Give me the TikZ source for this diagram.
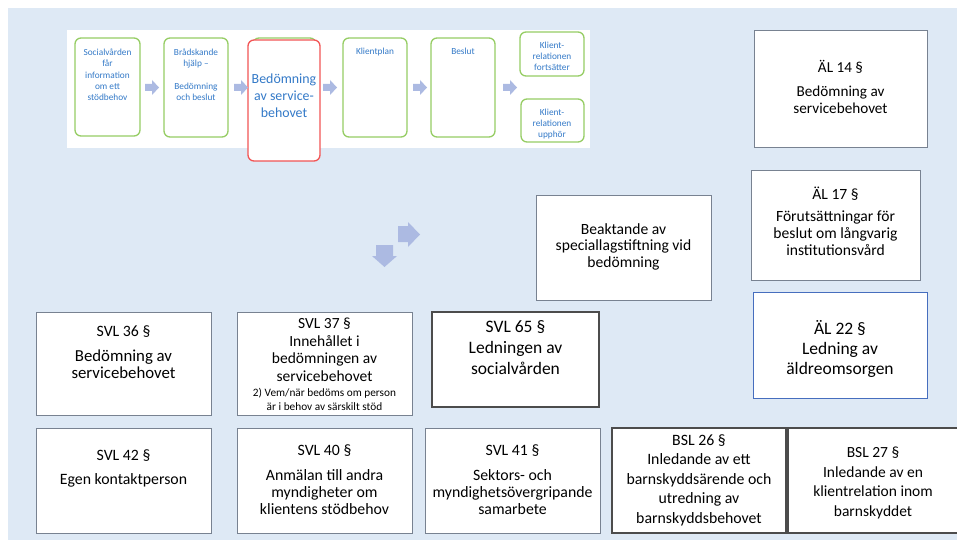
\documentclass[tikz,border=0pt]{standalone}
\usepackage{fontspec}
\setmainfont{Carlito}

\definecolor{panelblue}{RGB}{222,233,245}
\definecolor{flowgreen}{RGB}{150,205,100}
\definecolor{flowred}{RGB}{242,85,85}
\definecolor{flowtext}{RGB}{52,122,200}
\definecolor{arrowblue}{RGB}{172,186,226}
\definecolor{boxgray}{RGB}{120,130,145}
\definecolor{boxblue}{RGB}{70,110,190}

\tikzset{
	lawbox/.style = {draw=boxgray, fill=white, line width=0.9pt},
	darkbox/.style = {draw=black!70, fill=white, line width=1.3pt},
	flowbox/.style = {draw=flowgreen, fill=white, line width=1.3pt, rounded corners=6pt},
	lawtext/.style = {align=center, inner sep=0pt, font=\fontsize{15.8}{17.3}\selectfont},
	bigtext/.style = {align=center, inner sep=0pt, font=\fontsize{17.5}{21}\selectfont},
	flowtext/.style = {align=center, inner sep=0pt, anchor=north, text=flowtext, font=\fontsize{9.3}{11.4}\selectfont},
	blockarrow/.style = {fill=arrowblue, draw=none}
}

\begin{document}
\begin{tikzpicture}[x=1pt, y=-1pt]
	\useasboundingbox (0,0) rectangle (957,540);
	\clip (0,0) rectangle (957,540);
	\fill[white] (0,0) rectangle (957,540);
	\fill[panelblue] (8,8) rectangle (957,540);

	% process strip
	\fill[white] (67,30) rectangle (590,148);

	\draw[flowbox] (75,38) rectangle (140,136);
	\node[flowtext] (f1) at (107.5,48.5) {Socialvården\\får\\information\\om ett\\stödbehov};

	\draw[flowbox] (164,38) rectangle (228,137);
	\node[flowtext] (f2) at (196,48.5) {Brådskande\\hjälp –\\[11.4pt]Bedömning\\och beslut};

	\draw[flowbox] (253,38) rectangle (316,137);
	\draw[flowbox, draw=flowred] (248,40) rectangle (320,161);
	\node[align=center, inner sep=0pt, text=flowtext, font=\fontsize{13.9}{17}\selectfont] (f3) at (284,95.5) {Bedömning\\av service-\\behovet};

	\draw[flowbox] (343,38) rectangle (407,137);
	\node[flowtext] (f4) at (375,47.5) {Klientplan};

	\draw[flowbox] (431,38) rectangle (495,137);
	\node[flowtext] (f5) at (463,47.5) {Beslut};

	\draw[flowbox] (520,32) rectangle (584,76);
	\node[flowtext] (f6) at (552,41.5) {Klient-\\relationen\\fortsätter};

	\draw[flowbox] (521,99) rectangle (584,142);
	\node[flowtext] (f7) at (552,108.5) {Klient-\\relationen\\upphör};

	\foreach \ax in {145,234,323,413,503}
		\fill[blockarrow] (\ax,84) -- (\ax+7,84) -- (\ax+7,80) -- (\ax+14,87.5)
			-- (\ax+7,95) -- (\ax+7,91) -- (\ax,91) -- cycle;

	% big arrows
	\fill[blockarrow] (398,226) -- (408,226) -- (408,222) -- (420,234.5)
		-- (408,247) -- (408,242) -- (398,242) -- cycle;
	\fill[blockarrow] (376,245) -- (393,245) -- (393,256) -- (397,256)
		-- (384.5,267) -- (372,256) -- (376,256) -- cycle;

	% right column
	\draw[lawbox] (754,30) rectangle (927,147);
	\node[lawtext, font=\fontsize{15.2}{16.5}\selectfont] (al14) at (840.5,86.5) {ÄL 14 §\\[8pt]Bedömning av\\servicebehovet};

	\draw[lawbox] (751,170) rectangle (920,280);
	\node[lawtext, font=\fontsize{15.6}{17}\selectfont] (al17) at (835.5,221) {ÄL 17 §\\[5pt]Förutsättningar för\\beslut om långvarig\\institutionsvård};

	\draw[lawbox] (536,195) rectangle (711,300);
	\node[lawtext, font=\fontsize{15.6}{16.5}\selectfont] (beakt) at (623.5,246.5) {Beaktande av\\speciallagstiftning vid\\bedömning};

	\draw[lawbox, draw=boxblue] (753,292) rectangle (927,398);
	\node[bigtext, font=\fontsize{17.5}{20}\selectfont] (al22) at (840,349) {ÄL 22 §\\Ledning av\\äldreomsorgen};

	% first row
	\draw[lawbox] (36,312) rectangle (211,415);
	\node[lawtext, font=\fontsize{16.8}{17}\selectfont] (svl36) at (123.5,352.5) {{\fontsize{15.8}{17}\selectfont SVL 36 §}\\[8pt]Bedömning av\\servicebehovet};

	\draw[lawbox] (237,312) rectangle (412,415);
	\node[lawtext, font=\fontsize{15.5}{17.5}\selectfont] (svl37) at (324.5,350) {SVL 37 §\\Innehållet i\\bedömningen av\\servicebehovet};
	\node[align=center, inner sep=0pt, font=\fontsize{11.3}{14}\selectfont] (svl37b) at (324.5,399.5) {2) Vem/när bedöms om person\\är i behov av särskilt stöd};

	\draw[darkbox, line width=1.1pt] (432,312) rectangle (599,407);
	\node[bigtext] (svl65) at (515.5,348) {SVL 65 §\\Ledningen av\\socialvården};

	% second row
	\draw[lawbox] (36,428) rectangle (211,533);
	\node[lawtext] (svl42) at (123.5,468.5) {SVL 42 §\\[7pt]Egen kontaktperson};

	\draw[lawbox] (237,428) rectangle (412,533);
	\node[lawtext] (svl40) at (324.5,480) {SVL 40 §\\[7pt]Anmälan till andra\\myndigheter om\\klientens stödbehov};

	\draw[lawbox] (425,428) rectangle (600,533);
	\node[lawtext] (svl41) at (512.5,480) {SVL 41 §\\[7pt]Sektors- och\\myndighetsövergripande\\samarbete};

	\draw[darkbox] (612,428) rectangle (786,533);
	\node[lawtext, font=\fontsize{15.8}{19.5}\selectfont] (bsl26) at (699,480) {BSL 26 §\\Inledande av ett\\barnskyddsärende och\\utredning av\\barnskyddsbehovet};

	\draw[darkbox] (788,428) rectangle (962,533);
	\node[lawtext, font=\fontsize{15.5}{19.5}\selectfont] (bsl27) at (873,483) {BSL 27 §\\Inledande av en\\klientrelation inom\\barnskyddet};
\end{tikzpicture}
\end{document}
